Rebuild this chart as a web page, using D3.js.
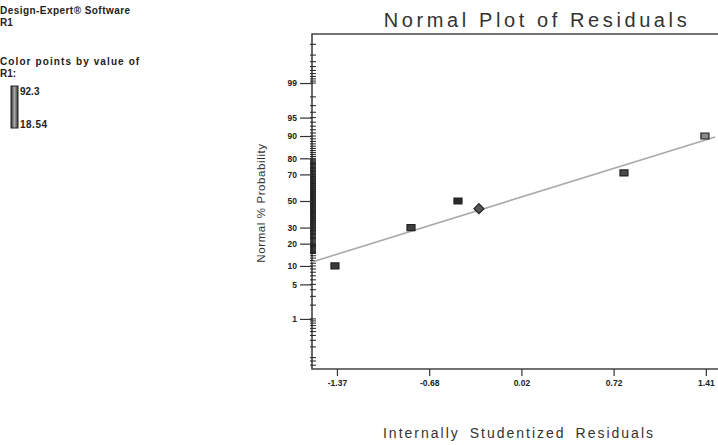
<!DOCTYPE html>
<html><head><meta charset="utf-8">
<script src="https://cdn.jsdelivr.net/npm/d3@7"></script>
<style>
html,body{margin:0;padding:0;background:#fff;overflow:hidden;}
text{font-family:"Liberation Sans",Arial,sans-serif;}
</style></head>
<body>
<svg id="c" width="718" height="445"></svg>
<script>
// ---- data ----
const residuals = [-1.385, -0.812, -0.458, -0.300, 0.793, 1.403];
const probabilities = [10, 30, 50, 44, 71, 90];
const pointShapes = ["square","square","square","diamond","square","square"];
const pointFills = ["#3a3a3a","#404040","#2a2a2a","#555555","#4a4a4a","#8a8a8a"];
const fitLineX = [-1.558, 1.48];
const fitLineP = [11.45, 89.68];
const xTickValues = [-1.37, -0.675, 0.02, 0.715, 1.41];
const xTickLabels = ["-1.37", "-0.68", "0.02", "0.72", "1.41"];
const yTickValues = [1, 5, 10, 20, 30, 50, 70, 80, 90, 95, 99];
const yTickLabels = ["1", "5", "10", "20", "30", "50", "70", "80", "90", "95", "99"];
const legendMax = "92.3", legendMin = "18.54";

// inverse normal CDF (Acklam)
function probit(p){
  const a=[-3.969683028665376e+01,2.209460984245205e+02,-2.759285104469687e+02,1.383577518672690e+02,-3.066479806614716e+01,2.506628277459239e+00];
  const b=[-5.447609879822406e+01,1.615858368580409e+02,-1.556989798598866e+02,6.680131188771972e+01,-1.328068155288572e+01];
  const c=[-7.784894002430293e-03,-3.223964580411365e-01,-2.400758277161838e+00,-2.549732539343734e+00,4.374664141464968e+00,2.938163982698783e+00];
  const d=[7.784695709041462e-03,3.224671290700398e-01,2.445134137142996e+00,3.754408661907416e+00];
  const pl=0.02425;
  let q,r;
  if(p<pl){q=Math.sqrt(-2*Math.log(p));return (((((c[0]*q+c[1])*q+c[2])*q+c[3])*q+c[4])*q+c[5])/((((d[0]*q+d[1])*q+d[2])*q+d[3])*q+1);}
  if(p<=1-pl){q=p-0.5;r=q*q;return (((((a[0]*r+a[1])*r+a[2])*r+a[3])*r+a[4])*r+a[5])*q/(((((b[0]*r+b[1])*r+b[2])*r+b[3])*r+b[4])*r+1);}
  q=Math.sqrt(-2*Math.log(1-p));return -(((((c[0]*q+c[1])*q+c[2])*q+c[3])*q+c[4])*q+c[5])/((((d[0]*q+d[1])*q+d[2])*q+d[3])*q+1);
}

const svg = d3.select("#c");
const L=312, T=34, R=730, B=369;
const x = d3.scaleLinear().domain([-1.558, 1.592]).range([L, R]);
const zScale = d3.scaleLinear().domain([-3.314, 3.294]).range([B, T]);
const y = p => zScale(probit(p/100));

// title
svg.append("text").attr("x",537).attr("y",27).attr("text-anchor","middle")
  .attr("font-size",20).attr("letter-spacing",3.6).attr("fill","#333").text("Normal Plot of Residuals");

// left info text
const info = svg.append("g").attr("font-weight","bold").attr("font-size",10).attr("fill","#222");
info.append("text").attr("x",0).attr("y",14).attr("letter-spacing",0.45).text("Design-Expert® Software");
info.append("text").attr("x",0).attr("y",26).text("R1");
info.append("text").attr("x",0).attr("y",65).attr("letter-spacing",1.1).text("Color points by value of");
info.append("text").attr("x",0).attr("y",77).text("R1:");
const defs = svg.append("defs");
const gr = defs.append("linearGradient").attr("id","cb").attr("x1","0").attr("x2","1").attr("y1","0").attr("y2","0");
gr.append("stop").attr("offset","0").attr("stop-color","#333");
gr.append("stop").attr("offset","0.5").attr("stop-color","#aaa");
gr.append("stop").attr("offset","1").attr("stop-color","#333");
svg.append("rect").attr("x",11).attr("y",86).attr("width",7).attr("height",42)
  .attr("fill","url(#cb)").attr("stroke","#222").attr("stroke-width",1);
info.append("text").attr("x",20).attr("y",95).attr("font-size",10).text(legendMax);
info.append("text").attr("x",20).attr("y",128).attr("font-size",10).attr("letter-spacing",0.5).text(legendMin);

// frame
svg.append("path").attr("d",`M${R},${T}H${L}V${B}H${R}`).attr("fill","none")
  .attr("stroke","#444").attr("stroke-width",1.6);

// y minor ticks
const minor = [].concat(d3.range(0.02,0.1,0.02), d3.range(0.1,1,0.1), d3.range(1,15,1),
  d3.range(15,80.01,0.5), d3.range(81,100,1), d3.range(99.1,99.95,0.1))
  .filter(p => y(p) > T + 2 && y(p) < B - 2);
svg.append("g").selectAll("line").data(minor).join("line")
  .attr("x1",L-2).attr("x2",L+4).attr("y1",d=>y(d)).attr("y2",d=>y(d))
  .attr("stroke","#222").attr("stroke-width",1);

// y axis major
const yAxis = d3.axisLeft(zScale).tickValues(yTickValues.map(p=>probit(p/100)))
  .tickFormat((d,i)=>yTickLabels[i]).tickSize(12).tickPadding(3);
const ya = svg.append("g").attr("transform",`translate(${L},0)`).call(yAxis);
ya.select(".domain").remove();
ya.selectAll("line").attr("stroke","#333").attr("stroke-width",1.2);
ya.selectAll("text").attr("font-size",8.5).attr("font-weight","bold").attr("fill","#222")
  .attr("font-family","Liberation Sans, Arial, sans-serif");

// x axis
const xAxis = d3.axisBottom(x).tickValues(xTickValues).tickFormat((d,i)=>xTickLabels[i]).tickSize(7).tickPadding(4);
const xa = svg.append("g").attr("transform",`translate(0,${B})`).call(xAxis);
xa.select(".domain").remove();
xa.selectAll("line").attr("stroke","#333").attr("stroke-width",1.2);
xa.selectAll("text").attr("font-size",8.5).attr("font-weight","bold").attr("fill","#222")
  .attr("font-family","Liberation Sans, Arial, sans-serif");

// axis titles
svg.append("text").attr("transform",`translate(265,203) rotate(-90)`).attr("text-anchor","middle")
  .attr("font-size",11.5).attr("letter-spacing",0.6).attr("fill","#333").text("Normal % Probability");
svg.append("text").attr("x",519).attr("y",438).attr("text-anchor","middle")
  .attr("font-size",14).attr("letter-spacing",2).attr("word-spacing",4).attr("fill","#333")
  .text("Internally Studentized Residuals");

// fit line
svg.append("line").attr("x1",x(fitLineX[0])).attr("y1",y(fitLineP[0]))
  .attr("x2",x(fitLineX[1])).attr("y2",y(fitLineP[1]))
  .attr("stroke","#aaa").attr("stroke-width",1.6);

// points
const pts = residuals.map((r,i)=>({r,p:probabilities[i],s:pointShapes[i],f:pointFills[i]}));
svg.append("g").selectAll("path").data(pts).join("path")
  .attr("transform",d=>`translate(${x(d.r)},${y(d.p)})`)
  .attr("d",d=>d.s==="diamond"?"M0,-5L5,0L0,5L-5,0Z":"M-4,-3H4V3H-4Z")
  .attr("fill",d=>d.f).attr("stroke","#222").attr("stroke-width",1.2);
</script>
</body></html>
